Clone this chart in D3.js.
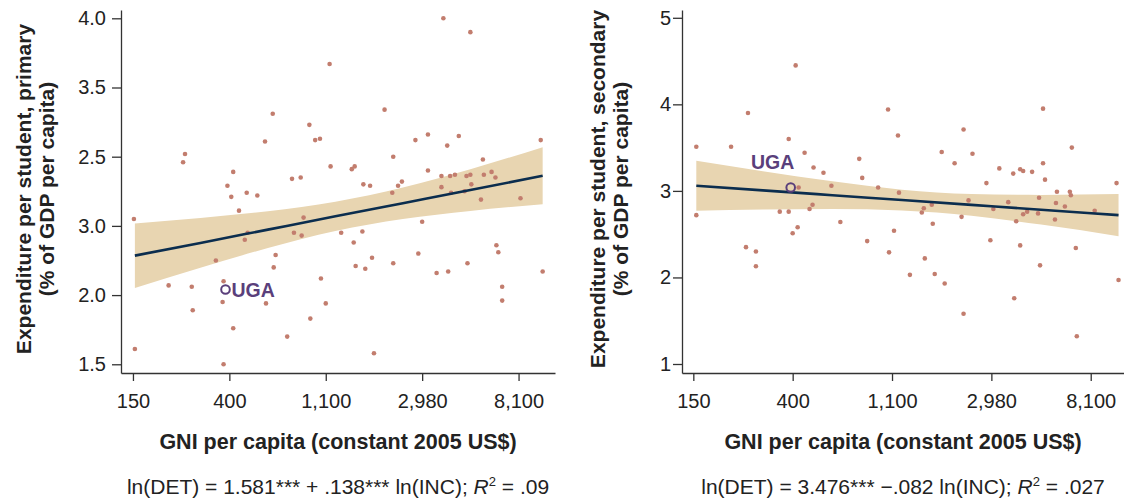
<!doctype html>
<html lang="en">
<head>
  <meta charset="utf-8">
  <style>
    body { margin: 0; background: #fff; }
    svg text { font-family: "Liberation Sans", Arial, Helvetica, sans-serif; fill: #222; }
  </style>
</head>
<body>
  <script src="https://cdnjs.cloudflare.com/ajax/libs/d3/7.8.5/d3.min.js"></script>
  <div id="chart"></div>
  <script>
    // x axis is ln(GNI per capita); ticks at e^5..e^9
    var xTickVals = [5, 6, 7, 8, 9];
    var xTickLabels = ["150", "400", "1,100", "2,980", "8,100"];

    var yTicksPrimary = [4.0, 3.5, 3.0, 2.5, 2.0, 1.5];
    var yLabelsPrimary = ["4.0", "3.5", "2.5", "3.0", "2.0", "1.5"];
    var yTicksSecondary = [5, 4, 3, 2, 1];
    var yLabelsSecondary = ["5", "4", "3", "2", "1"];

    // primary panel: countries
    var primaryX = [8.22,8.50,7.04,7.61,6.45,6.83,6.37,6.89,6.94,7.93,
                    8.06,8.26,8.38,9.23,5.54,5.52,7.70,8.63,7.05,7.27,
                    7.30,6.04,8.06,8.20,8.29,8.34,8.46,8.50,8.64,8.72,
                    8.76,6.65,6.74,7.79,5.98,7.39,7.46,7.75,8.20,8.51,
                    6.02,6.18,6.29,7.69,8.30,8.44,8.61,9.02,6.10,5.01,
                    6.77,8.00,6.67,6.75,6.19,6.16,7.16,7.38,7.29,8.77,
                    8.79,6.48,7.96,7.48,5.86,8.47,7.70,6.46,7.31,7.41,
                    8.15,8.27,9.25,6.95,5.94,5.37,5.61,8.83,8.83,5.93,
                    6.38,7.00,5.62,6.84,6.04,6.60,5.02,7.50,5.94];
    var primaryY = [4.00,3.90,3.67,3.34,3.31,3.23,3.11,3.12,3.13,3.12,
                    3.16,3.08,3.15,3.12,3.02,2.96,3.00,2.98,2.93,2.91,
                    2.93,2.89,2.90,2.86,2.86,2.87,2.86,2.87,2.87,2.89,
                    2.85,2.84,2.85,2.82,2.79,2.80,2.79,2.79,2.78,2.80,
                    2.71,2.74,2.72,2.74,2.74,2.75,2.69,2.70,2.61,2.55,
                    2.56,2.53,2.45,2.43,2.45,2.40,2.45,2.46,2.38,2.36,
                    2.31,2.29,2.30,2.27,2.25,2.23,2.23,2.20,2.21,2.19,
                    2.16,2.17,2.17,2.12,2.10,2.07,2.06,2.06,1.96,1.95,
                    1.94,1.94,1.89,1.83,1.76,1.70,1.61,1.58,1.50];
    var primaryUGA = [5.96, 2.04];

    // primary fit and confidence band
    var fitXPrimary = [5.02, 5.7, 6.4, 7.1, 7.8, 8.5, 9.25];
    var fitYPrimary = [2.285, 2.377, 2.473, 2.569, 2.664, 2.759, 2.862];
    var bandHiPrimary = [2.518, 2.557, 2.606, 2.675, 2.778, 2.910, 3.068];
    var bandLoPrimary = [2.052, 2.197, 2.340, 2.463, 2.550, 2.608, 2.656];

    // secondary panel
    var secondaryX = [6.03,5.55,6.96,8.52,7.72,7.06,5.03,5.38,5.96,8.81,
                      6.12,7.50,7.81,6.67,7.63,8.52,6.21,6.31,8.08,8.22,
                      8.29,8.32,8.41,6.70,8.54,7.95,9.26,6.06,6.39,6.86,
                      7.07,8.66,8.79,8.80,8.48,7.77,
                      5.03,5.87,5.96,6.17,6.20,7.30,7.32,7.40,8.02,8.17,
                      8.32,8.36,8.47,8.65,8.74,9.04,8.64,8.25,7.70,6.48,
                      7.41,6.05,6.00,7.02,6.75,7.99,8.29,5.53,5.63,6.97,
                      8.85,7.33,5.63,8.49,7.18,7.43,7.53,9.28,8.23,7.72,8.86];
    var secondaryY = [4.45,3.90,3.94,3.95,3.71,3.64,3.51,3.51,3.60,3.50,
                      3.44,3.45,3.43,3.37,3.32,3.32,3.27,3.21,3.26,3.20,
                      3.25,3.23,3.22,3.15,3.13,3.09,3.09,3.04,3.06,3.04,
                      2.98,2.99,2.99,2.95,2.92,2.89,
                      2.72,2.76,2.76,2.79,2.84,2.75,2.80,2.84,2.79,2.87,
                      2.73,2.76,2.74,2.86,2.82,2.77,2.67,2.65,2.70,2.64,
                      2.62,2.58,2.51,2.54,2.42,2.43,2.37,2.35,2.30,2.29,
                      2.34,2.22,2.13,2.14,2.03,2.04,1.93,1.97,1.76,1.58,1.32];
    var secondaryUGA = [5.98, 3.04];

    var fitXSecondary = [5.03, 5.7, 6.4, 7.1, 7.8, 8.5, 9.28];
    var fitYSecondary = [3.060, 3.006, 2.950, 2.894, 2.838, 2.782, 2.720];
    var bandHiSecondary = [3.349, 3.228, 3.110, 3.014, 2.963, 2.953, 2.963];
    var bandLoSecondary = [2.771, 2.784, 2.790, 2.774, 2.713, 2.611, 2.477];

    var width = 1124, height = 500;
    var svg = d3.select("#chart").append("svg")
                .attr("width", width)
                .attr("height", height);

    var dotColor = "#c27d6e", bandColor = "#e8d5b1", lineColor = "#0b2d4e", ugaColor = "#5a3f7b";

    function drawPanel(p) {
      var x = d3.scaleLinear().domain(p.xDomain).range(p.xRange);
      var y = d3.scaleLinear().domain(p.yDomain).range([373, 10]);
      var g = svg.append("g");

      // band
      var band = p.fitX.map(function(v, i) { return {x: v, lo: p.lo[i], hi: p.hi[i], fit: p.fitY[i]}; });
      g.append("path").datum(band)
        .attr("fill", bandColor)
        .attr("d", d3.area().curve(d3.curveMonotoneX)
          .x(function(d) { return x(d.x); })
          .y0(function(d) { return y(d.lo); })
          .y1(function(d) { return y(d.hi); }));

      // dots
      var pts = p.px.map(function(v, i) { return [v, p.py[i]]; });
      g.append("g").selectAll("circle").data(pts).enter()
        .append("circle")
        .attr("cx", function(d) { return x(d[0]); })
        .attr("cy", function(d) { return y(d[1]); })
        .attr("r", 2.3)
        .attr("fill", dotColor);

      // fit line
      g.append("path").datum(band)
        .attr("fill", "none")
        .attr("stroke", lineColor)
        .attr("stroke-width", 2.6)
        .attr("d", d3.line().curve(d3.curveMonotoneX)
          .x(function(d) { return x(d.x); })
          .y(function(d) { return y(d.fit); }));

      // UGA
      g.append("circle")
        .attr("cx", x(p.uga[0])).attr("cy", y(p.uga[1]))
        .attr("r", 4.3)
        .attr("fill", "none")
        .attr("stroke", ugaColor)
        .attr("stroke-width", 2);
      g.append("text")
        .attr("x", x(p.uga[0]) + p.ugaDx)
        .attr("y", y(p.uga[1]) + p.ugaDy)
        .attr("text-anchor", p.ugaAnchor)
        .style("font-size", "19.5px")
        .style("font-weight", "bold")
        .style("fill", ugaColor)
        .text("UGA");

      // axes
      var yAxis = g.append("g")
        .attr("transform", "translate(" + p.xRange[0] + ",0)")
        .call(d3.axisLeft(y).tickValues(p.yTicks).tickSize(9).tickSizeOuter(0)
          .tickFormat(function(d, i) { return p.yLabels[i]; }));
      var xAxis = g.append("g")
        .attr("transform", "translate(0,373)")
        .call(d3.axisBottom(x).tickValues(xTickVals).tickSize(8).tickSizeOuter(0)
          .tickFormat(function(d, i) { return xTickLabels[i]; }));
      [xAxis, yAxis].forEach(function(a) {
        a.selectAll("path, line").attr("stroke", "#333").attr("stroke-width", 1.3);
        a.selectAll("text").style("font-size", "20px").style("fill", "#222")
          .attr("font-family", null);
      });
      yAxis.selectAll("text").attr("x", p.yLabelX);
      xAxis.selectAll("text").attr("y", 21);

      var cx = (p.xRange[0] + p.xRange[1]) / 2;
      g.append("text")
        .attr("x", cx).attr("y", 449)
        .attr("text-anchor", "middle")
        .style("font-size", "21.5px").style("font-weight", "bold")
        .text("GNI per capita (constant 2005 US$)");

      var ty = g.append("text")
        .attr("transform", "translate(" + p.titleX + ",189) rotate(-90)")
        .attr("text-anchor", "middle")
        .style("font-size", "21px").style("font-weight", "bold");
      ty.append("tspan").attr("x", 0).attr("dy", 0).text(p.yTitle);
      ty.append("tspan").attr("x", 0).attr("dy", 23).text("(% of GDP per capita)");

      var eq = g.append("text")
        .attr("x", cx).attr("y", 494)
        .attr("text-anchor", "middle")
        .style("font-size", "21px");
      eq.append("tspan").text(p.eq);
      eq.append("tspan").style("font-style", "italic").text("R");
      eq.append("tspan").attr("dy", -8).style("font-size", "13px").text("2");
      eq.append("tspan").attr("dy", 8).text(" = " + p.r2);
    }

    drawPanel({
      xDomain: [4.876, 9.378], xRange: [121, 555],
      yDomain: [1.437, 4.06],
      yTicks: yTicksPrimary, yLabels: yLabelsPrimary, yLabelX: -15,
      px: primaryX, py: primaryY, uga: primaryUGA,
      ugaDx: 6, ugaDy: 7, ugaAnchor: "start",
      fitX: fitXPrimary, fitY: fitYPrimary, lo: bandLoPrimary, hi: bandHiPrimary,
      titleX: 31, yTitle: "Expenditure per student, primary",
      eq: "ln(DET) = 1.581*** + .138*** ln(INC); ", r2: ".09"
    });

    drawPanel({
      xDomain: [4.886, 9.335], xRange: [682, 1124],
      yDomain: [0.896, 5.09],
      yTicks: yTicksSecondary, yLabels: yLabelsSecondary, yLabelX: -11,
      px: secondaryX, py: secondaryY, uga: secondaryUGA,
      ugaDx: -18, ugaDy: -18, ugaAnchor: "middle",
      fitX: fitXSecondary, fitY: fitYSecondary, lo: bandLoSecondary, hi: bandHiSecondary,
      titleX: 605, yTitle: "Expenditure per student, secondary",
      eq: "ln(DET) = 3.476*** \u2212.082 ln(INC); ", r2: ".027"
    });
  </script>
</body>
</html>
